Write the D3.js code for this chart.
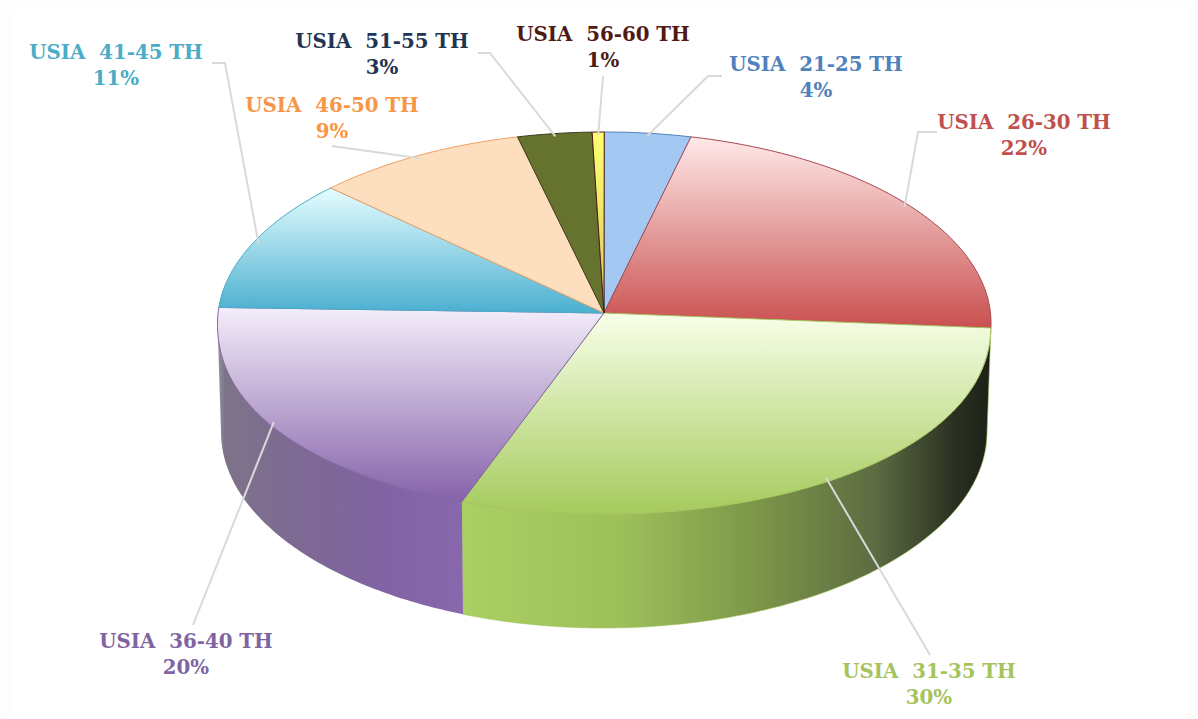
<!DOCTYPE html>
<html>
<head>
<meta charset="utf-8">
<script src="https://cdn.jsdelivr.net/npm/d3@7"></script>
<style>
    html, body { margin: 0; padding: 0; background: #fff; overflow: hidden; }
    text { font-family: "DejaVu Serif", serif; font-weight: bold; font-size: 19.8px; white-space: pre; }
</style>
</head>
<body>
<script>
// values, order is clockwise from 12 o'clock
const categories = ["USIA  21-25 TH", "USIA  26-30 TH", "USIA  31-35 TH", "USIA  36-40 TH",
    "USIA  41-45 TH", "USIA  46-50 TH", "USIA  51-55 TH", "USIA  56-60 TH"];
const sliceValues = [3.6, 21.7, 30.7, 20.3, 11.2, 8.9, 3.1, 0.5];
const percentLabels = ["4%", "22%", "30%", "20%", "11%", "9%", "3%", "1%"];

const labelColors = ["#4f81bd", "#c0504d", "#a5c45e", "#8064a2", "#4bacc6", "#f79646", "#1f3552", "#4f1a14"];
const strokeColors = ["#4f81bd", "#a8484f", "#a5c45e", "#8064a2", "#4bacc6", "#f0a060", "#3c3c22", "#4f1a14"];
const topLight = ["#a3c8f2", "#ffe9e9", "#f8ffe9", "#f4eefb", "#e6fdff", "#fddfc0", "#65732f", "#ffff70"];
const topDark = ["#a3c8f2", "#c9504f", "#a5ca5c", "#8562a9", "#4bafd0", "#fddfc0", "#65732f", "#d8c860"];

// label centre x, first baseline y, the leader from the label to its elbow,
// and how many degrees the leader's rim end sits off the slice middle
const labelLayout = [
    { x: 816, y: 71, leader: [[722, 76], [708, 76]], nudge: 0 },
    { x: 1024, y: 129, leader: [[937, 132], [918, 132]], nudge: 0 },
    { x: 929, y: 678, leader: [[930, 655]], nudge: -2 },
    { x: 186, y: 648, leader: [[193, 625]], nudge: 2 },
    { x: 116, y: 59, leader: [[212, 63], [225, 63]], nudge: 0 },
    { x: 332, y: 112, leader: [[332, 146]], nudge: 0 },
    { x: 382, y: 48, leader: [[478, 53], [490, 53]], nudge: 0 },
    { x: 603, y: 41, leader: [[603, 76]], nudge: 0 }
];

const wallLeft = [[0, "#9a93a4"], [0.03, "#7d7488"], [0.3, "#7e6a92"], [0.65, "#8063a2"], [1, "#8867ad"]];
const wallRight = [[0, "#aacf63"], [0.3, "#9dc05a"], [0.55, "#7d9849"], [0.78, "#5d6c42"], [0.93, "#2b3122"], [1, "#1c2018"]];

const width = 1198, height = 719;
const apex = [604, 313];

const svg = d3.select("body").append("svg")
    .attr("width", width)
    .attr("height", height);

svg.append("rect").attr("width", width).attr("height", height).attr("fill", "#fdfdfd");
svg.append("rect").attr("x", 10).attr("y", 9).attr("width", width - 20).attr("height", height - 9).attr("fill", "#fff");

const defs = svg.append("defs");

// the pie is a tilted disc: top ellipse and a slightly smaller bottom ellipse
const topX = d3.scaleLinear().domain([-1, 1]).range([217.5, 991]);
const topY = d3.scaleLinear().domain([-1, 1]).range([132, 514]);
const botX = d3.scaleLinear().domain([-1, 1]).range([221, 987]);
const botY = d3.scaleLinear().domain([-1, 1]).range([236, 628]);

// the near half of the top face bulges a little because of the perspective
const onTop = a => {
    const c = -Math.cos(a);
    return [topX(Math.sin(a)), topY(c > 0 ? Math.pow(c, 0.92) : c)];
};
const onBottom = a => [botX(Math.sin(a)), botY(-Math.cos(a))];

function sampleAngles(a0, a1) {
    const n = Math.max(2, Math.ceil((a1 - a0) * 60));
    return d3.range(n + 1).map(i => a0 + (a1 - a0) * i / n);
}

const pie = d3.pie().sort(null).value(d => d);
const arcs = pie(sliceValues);
const line = d3.line();

arcs.forEach((d, i) => {
    const g = defs.append("linearGradient")
        .attr("id", "top" + i)
        .attr("x1", 0).attr("y1", 0).attr("x2", 0).attr("y2", 1);
    g.append("stop").attr("offset", 0).attr("stop-color", topLight[i]);
    g.append("stop").attr("offset", 1).attr("stop-color", topDark[i]);
});

function wallGradient(id, stops, x0, x1) {
    const g = defs.append("linearGradient")
        .attr("id", id)
        .attr("gradientUnits", "userSpaceOnUse")
        .attr("x1", x0).attr("y1", 0).attr("x2", x1).attr("y2", 0);
    stops.forEach(s => g.append("stop").attr("offset", s[0]).attr("stop-color", s[1]));
}
wallGradient("wall2", wallRight, topX(Math.sin(arcs[2].endAngle)), topX(1));
wallGradient("wall3", wallLeft, topX(-1), topX(Math.sin(arcs[3].startAngle)));

// only the front half of the rim can be seen
const front = arcs.map((d, i) => ({
    i: i,
    a0: Math.max(d.startAngle, Math.PI / 2),
    a1: Math.min(d.endAngle, Math.PI * 1.5)
})).filter(d => d.a1 > d.a0);

svg.append("g").selectAll("path")
    .data(front)
    .join("path")
    .attr("d", d => {
        const angles = sampleAngles(d.a0, d.a1);
        const lower = angles.map(onBottom).reverse();
        return line(angles.map(onTop).concat(lower)) + "Z";
    })
    .attr("fill", d => "url(#wall" + d.i + ")")
    .attr("stroke", d => d.i === 2 ? "#a5c45e" : "none")
    .attr("stroke-width", 0.6);

svg.append("g").selectAll("path")
    .data(arcs)
    .join("path")
    .attr("d", d => line([apex].concat(sampleAngles(d.startAngle, d.endAngle).map(onTop))) + "Z")
    .attr("fill", (d, i) => "url(#top" + i + ")")
    .attr("stroke", (d, i) => strokeColors[i])
    .attr("stroke-width", 1)
    .attr("stroke-linejoin", "round");

// leaders run from the label to the middle of the slice rim
const leaders = svg.append("g");
arcs.forEach((d, i) => {
    const mid = (d.startAngle + d.endAngle) / 2 + labelLayout[i].nudge * Math.PI / 180;
    const rim = onTop(mid);
    const inset = [rim[0] + (apex[0] - rim[0]) * 0.015, rim[1] + (apex[1] - rim[1]) * 0.015];
    leaders.append("path")
        .attr("d", line(labelLayout[i].leader.concat([inset])))
        .attr("fill", "none")
        .attr("stroke", "#d9d9d9")
        .attr("stroke-width", 2);
});

const labels = svg.append("g").attr("text-anchor", "middle");
categories.forEach((c, i) => {
    const t = labels.append("text").attr("fill", labelColors[i]);
    t.append("tspan").attr("x", labelLayout[i].x).attr("y", labelLayout[i].y).text(c);
    t.append("tspan").attr("x", labelLayout[i].x).attr("y", labelLayout[i].y + 26).text(percentLabels[i]);
});
</script>
</body>
</html>
